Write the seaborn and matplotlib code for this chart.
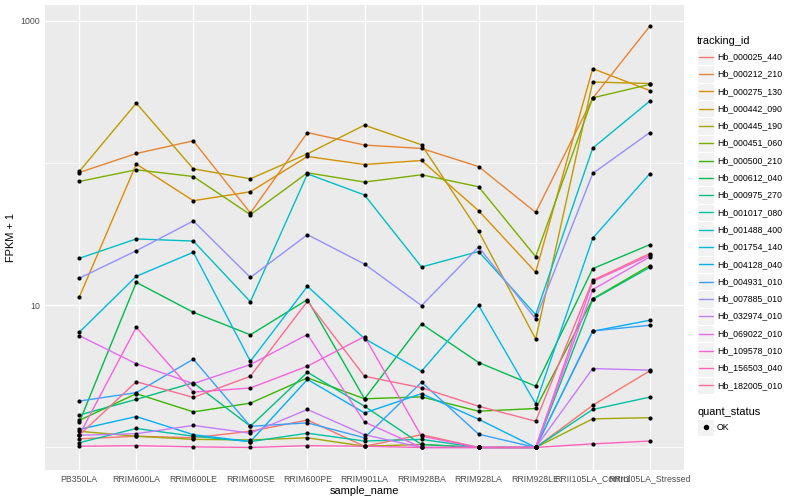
import numpy as np
import pandas as pd
import matplotlib
matplotlib.use("Agg")
import matplotlib.pyplot as plt
import seaborn as sns
from matplotlib.lines import Line2D
from matplotlib.patches import Rectangle
from matplotlib.ticker import FixedLocator, NullFormatter, FixedFormatter

samples = ["PB350LA", "RRIM600LA", "RRIM600LE", "RRIM600SE", "RRIM600PE",
           "RRIM901LA", "RRIM928BA", "RRIM928LA", "RRIM928LE",
           "RRII105LA_Control", "RRII105LA_Stressed"]

tracking_ids = ["Hb_000025_440", "Hb_000212_210", "Hb_000275_130", "Hb_000442_090",
                "Hb_000445_190", "Hb_000451_060", "Hb_000500_210", "Hb_000612_040",
                "Hb_000975_270", "Hb_001017_080", "Hb_001488_400", "Hb_001754_140",
                "Hb_004128_040", "Hb_004931_010", "Hb_007885_010", "Hb_032974_010",
                "Hb_069022_010", "Hb_109578_010", "Hb_156503_040", "Hb_182005_010"]

# FPKM + 1 per sample (order of `samples`)
hb_000025_440 = [1.15, 1.20, 1.17, 1.30, 1.56, 1.02, 1.23, 1.0, 1.0, 1.98, 3.46]
hb_000212_210 = [85.9, 116.9, 143.5, 44.6, 164.0, 134.0, 126.8, 94.6, 45.0, 286.0, 918.0]
hb_000275_130 = [11.4, 98.5, 54.4, 62.9, 111.4, 97.8, 104.4, 46.3, 17.1, 462.0, 324.0]
hb_000442_090 = [87.4, 264.0, 91.2, 77.6, 116.3, 185.0, 134.5, 33.2, 5.79, 372.0, 363.0]
hb_000445_190 = [1.30, 1.20, 1.14, 1.13, 1.17, 1.02, 1.05, 1.0, 1.0, 1.59, 1.62]
hb_000451_060 = [74.3, 89.8, 80.5, 43.4, 85.5, 73.6, 82.8, 68.2, 22.0, 288.0, 358.0]
hb_000500_210 = [1.55, 2.39, 1.78, 2.05, 3.09, 2.20, 2.27, 1.80, 1.88, 11.1, 19.0]
hb_000612_040 = [1.50, 14.5, 8.93, 6.20, 10.97, 2.20, 7.40, 3.96, 2.70, 18.1, 26.7]
hb_000975_270 = [1.69, 2.18, 2.85, 1.41, 3.38, 1.95, 1.05, 1.0, 1.0, 11.0, 18.5]
hb_001017_080 = [1.08, 1.36, 1.20, 1.10, 1.26, 1.11, 1.14, 1.0, 1.0, 1.85, 2.26]
hb_001488_400 = [21.4, 29.3, 28.3, 10.6, 84.0, 59.7, 18.6, 23.9, 8.6, 127.6, 273.0]
hb_001754_140 = [6.46, 16.0, 23.6, 4.04, 13.6, 5.83, 3.44, 10.0, 2.03, 29.6, 84.2]
hb_004128_040 = [1.34, 1.65, 1.23, 1.10, 3.01, 1.75, 2.39, 1.58, 1.0, 6.57, 7.85]
hb_004931_010 = [2.12, 2.43, 4.18, 1.41, 1.49, 1.17, 2.88, 1.24, 1.0, 6.60, 7.24]
hb_007885_010 = [15.5, 24.2, 39.2, 15.7, 31.4, 19.5, 9.95, 25.7, 8.03, 84.6, 164.0]
hb_032974_010 = [1.22, 1.25, 1.43, 1.26, 1.85, 1.23, 1.0, 1.0, 1.0, 3.59, 3.50]
hb_069022_010 = [6.12, 3.88, 2.81, 3.83, 6.23, 1.51, 1.0, 1.0, 1.0, 12.9, 21.9]
hb_109578_010 = [1.22, 7.00, 2.45, 2.62, 3.73, 6.03, 1.20, 1.0, 1.0, 14.7, 22.5]
hb_156503_040 = [1.02, 1.03, 1.01, 1.0, 1.03, 1.02, 1.0, 1.0, 1.0, 1.06, 1.11]
hb_182005_010 = [1.22, 2.90, 2.25, 3.17, 10.67, 3.17, 2.63, 1.95, 1.53, 14.98, 23.1]

series_values = [hb_000025_440, hb_000212_210, hb_000275_130, hb_000442_090,
                 hb_000445_190, hb_000451_060, hb_000500_210, hb_000612_040,
                 hb_000975_270, hb_001017_080, hb_001488_400, hb_001754_140,
                 hb_004128_040, hb_004931_010, hb_007885_010, hb_032974_010,
                 hb_069022_010, hb_109578_010, hb_156503_040, hb_182005_010]

palette = ["#F8766D", "#EA8331", "#D89000", "#C09B00", "#A3A500", "#7CAE00",
           "#39B600", "#00BB4E", "#00BF7D", "#00C1A3", "#00BFC4", "#00BAE0",
           "#00B0F6", "#35A2FF", "#9590FF", "#C77CFF", "#E76BF3", "#FA62DB",
           "#FF62BC", "#FF6C91"]

quant_levels = ["OK"]
y_ticks = [10, 1000]
y_tick_labels = ["10", "1000"]
y_minor = [1, 100]

rows = []
for tid, vals in zip(tracking_ids, series_values):
    for s, v in zip(samples, vals):
        rows.append({"tracking_id": tid, "sample_name": s, "FPKM": v, "quant_status": "OK"})
df = pd.DataFrame(rows)

sns.set_theme(style="darkgrid")
plt.rcParams["font.family"] = ["Liberation Sans", "DejaVu Sans"]

W, H = 800, 500
fig = plt.figure(figsize=(8, 5), dpi=100)
ax = fig.add_axes([45 / W, 1 - 469.5 / H, 639 / W, 464.5 / H])
ax.set_facecolor("#EBEBEB")
ax.xaxis.update_units(np.asarray(samples))

sns.lineplot(data=df, x="sample_name", y="FPKM", hue="tracking_id",
             hue_order=tracking_ids, palette=palette, sort=False,
             estimator=None, linewidth=1.0, legend=False, ax=ax)
sns.scatterplot(data=df, x="sample_name", y="FPKM", color="black", s=9,
                linewidth=0, legend=False, ax=ax, zorder=5)

ax.set_yscale("log")
ax.set_ylim(0.70, 1295)
ax.set_xlim(-0.6, len(samples) - 0.4)
ax.yaxis.set_major_locator(FixedLocator(y_ticks))
ax.yaxis.set_major_formatter(FixedFormatter(y_tick_labels))
ax.yaxis.set_minor_locator(FixedLocator(y_minor))
ax.yaxis.set_minor_formatter(NullFormatter())
ax.set_xticks(range(len(samples)))
ax.set_xticklabels(samples)

ax.grid(which="major", color="white", linewidth=1.0)
ax.grid(which="minor", axis="y", color="white", linewidth=0.5)
ax.grid(which="minor", axis="x", visible=False)
for sp in ax.spines.values():
    sp.set_visible(False)
ax.tick_params(which="major", length=2.0, width=0.8, color="#333333",
               labelsize=6.34, labelcolor="#4D4D4D", pad=1.6)
ax.tick_params(which="minor", length=0)
ax.set_xlabel("sample_name", fontsize=7.92, color="black", labelpad=2.0)
ax.set_ylabel("FPKM + 1", fontsize=7.92, color="black", labelpad=3.0)

# ---- legends (ggplot style, drawn in figure pixel space) ----
def fx(px):
    return px / W

def fy(py):
    return 1 - py / H

KEY = 17.28
LEG_X = 697.0
TEXT_X = 717.0
PITCH = 17.3
leg_fs = 6.34
title_fs = 7.92

fig.text(fx(LEG_X), fy(40.7), "tracking_id", fontsize=title_fs, color="black",
         ha="left", va="center")
for i, (tid, col) in enumerate(zip(tracking_ids, palette)):
    yc = 56.7 + PITCH * i
    fig.add_artist(Rectangle((fx(LEG_X), fy(yc + KEY / 2)), KEY / W, KEY / H,
                             transform=fig.transFigure, facecolor="#F2F2F2",
                             edgecolor="white", linewidth=0.8))
    fig.add_artist(Line2D([fx(LEG_X + 1.7), fx(LEG_X + KEY - 1.7)], [fy(yc), fy(yc)],
                          transform=fig.transFigure, color=col, linewidth=1.0))
    fig.text(fx(TEXT_X), fy(yc), tid, fontsize=leg_fs, color="black",
             ha="left", va="center")

fig.text(fx(LEG_X), fy(411.7), "quant_status", fontsize=title_fs, color="black",
         ha="left", va="center")
for j, lvl in enumerate(quant_levels):
    yc = 427.3 + PITCH * j
    fig.add_artist(Rectangle((fx(LEG_X), fy(yc + KEY / 2)), KEY / W, KEY / H,
                             transform=fig.transFigure, facecolor="#F2F2F2",
                             edgecolor="white", linewidth=0.8))
    fig.add_artist(Line2D([fx(LEG_X + KEY / 2)], [fy(yc)], transform=fig.transFigure,
                          color="black", marker="o", markersize=2.9, linestyle="none"))
    fig.text(fx(TEXT_X), fy(yc), lvl, fontsize=leg_fs, color="black",
             ha="left", va="center")

fig.savefig("out.png", dpi=100, facecolor="white")
